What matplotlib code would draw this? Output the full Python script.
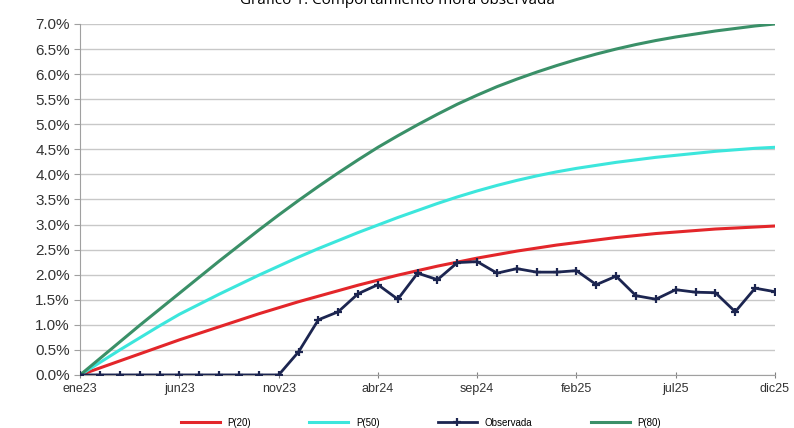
import matplotlib
matplotlib.use('Agg')
import matplotlib.pyplot as plt
from matplotlib.ticker import FuncFormatter, MultipleLocator

# Meses ene23 .. dic25
meses = ['ene23', 'feb23', 'mar23', 'abr23', 'may23', 'jun23', 'jul23', 'ago23', 'sep23',
         'oct23', 'nov23', 'dic23', 'ene24', 'feb24', 'mar24', 'abr24', 'may24', 'jun24',
         'jul24', 'ago24', 'sep24', 'oct24', 'nov24', 'dic24', 'ene25', 'feb25', 'mar25',
         'abr25', 'may25', 'jun25', 'jul25', 'ago25', 'sep25', 'oct25', 'nov25', 'dic25']

# Valores en %
p_bajo = [0.00, 0.14, 0.28, 0.42, 0.56, 0.70, 0.83, 0.96, 1.09, 1.22, 1.34, 1.46,
          1.57, 1.68, 1.79, 1.89, 1.99, 2.08, 2.17, 2.25, 2.33, 2.40, 2.47, 2.53,
          2.59, 2.64, 2.69, 2.74, 2.78, 2.82, 2.85, 2.88, 2.91, 2.93, 2.95, 2.97]
p_medio = [0.00, 0.25, 0.50, 0.74, 0.98, 1.21, 1.41, 1.61, 1.80, 1.99, 2.17, 2.35,
           2.52, 2.68, 2.84, 2.99, 3.14, 3.28, 3.42, 3.55, 3.67, 3.78, 3.88, 3.97,
           4.05, 4.12, 4.18, 4.24, 4.29, 4.34, 4.38, 4.42, 4.46, 4.49, 4.52, 4.54]
p_alto = [0.00, 0.33, 0.66, 0.99, 1.31, 1.63, 1.95, 2.27, 2.58, 2.89, 3.19, 3.48,
          3.76, 4.03, 4.29, 4.54, 4.77, 4.99, 5.20, 5.40, 5.58, 5.75, 5.90, 6.04,
          6.17, 6.29, 6.40, 6.50, 6.59, 6.67, 6.74, 6.80, 6.86, 6.91, 6.96, 7.00]
observada = [0, 0, 0, 0, 0, 0, 0, 0, 0, 0, 0, 0.46,
             1.10, 1.26, 1.62, 1.80, 1.51, 2.03, 1.90, 2.24, 2.26, 2.03, 2.12, 2.05,
             2.05, 2.08, 1.80, 1.97, 1.58, 1.51, 1.70, 1.65, 1.64, 1.26, 1.73, 1.66]

etiquetas = ['P(20)', 'P(50)', 'Observada', 'P(80)']

plt.rcParams['font.family'] = ['Liberation Sans', 'DejaVu Sans']

fig = plt.figure(figsize=(7.94, 4.28), dpi=100)
ax = fig.add_axes([0.101, 0.124, 0.875, 0.820])

x = list(range(len(meses)))
ax.plot(x, p_bajo, color='#e3262a', lw=2.2, label=etiquetas[0], zorder=3)
ax.plot(x, p_medio, color='#3ce6dc', lw=2.2, label=etiquetas[1], zorder=3)
ax.plot(x, observada, color='#1c2550', lw=2.0, marker='+', ms=6, mew=1.6,
        label=etiquetas[2], zorder=4)
ax.plot(x, p_alto, color='#3a9068', lw=2.2, label=etiquetas[3], zorder=3)

ax.set_xlim(0, 35)
ax.set_ylim(0, 7.0)
ax.yaxis.set_major_locator(MultipleLocator(0.5))
ax.yaxis.set_major_formatter(FuncFormatter(lambda v, p: f'{v:.1f}%'))
ax.set_xticks(x[::5])
ax.set_xticklabels(meses[::5])

ax.grid(axis='y', color='#c8c8c8', lw=1)
ax.set_axisbelow(True)
for s in ['top', 'right']:
    ax.spines[s].set_visible(False)
ax.spines['left'].set_color('#a0a0a0')
ax.spines['bottom'].set_color('#a0a0a0')
ax.tick_params(axis='y', labelsize=11, length=4, color='#a0a0a0', labelcolor='#333333')
ax.tick_params(axis='x', labelsize=9, length=4, direction='inout', color='#808080',
               labelcolor='#333333', pad=4)

fig.text(0.5, 1.0, 'Gráfico 1. Comportamiento mora observada', ha='center',
         va='center', fontsize=11, family=['Open Sans', 'DejaVu Sans'])

fig.legend(loc='lower center', ncol=4, frameon=False, fontsize=7,
           bbox_to_anchor=(0.53, -0.02), handlelength=4, columnspacing=6)

fig.savefig('out.png', dpi=100)
